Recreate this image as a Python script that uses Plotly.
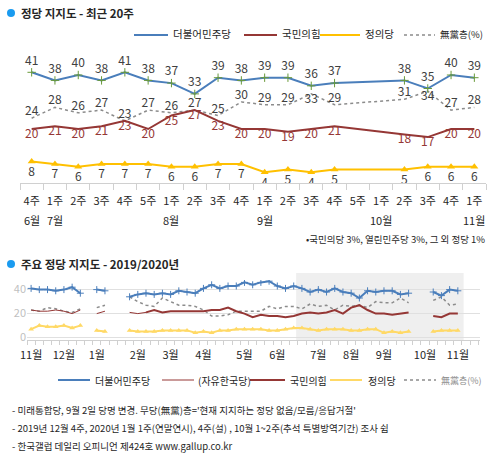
import plotly.graph_objects as go

# ---- top chart: last 20 weeks ----
weeks = ["4주", "1주", "2주", "3주", "4주", "5주", "1주", "2주", "3주", "4주",
         "1주", "2주", "3주", "4주", "5주", "1주", "2주", "3주", "4주", "1주"]
month_pos = [0, 1, 6, 10, 15, 19]
month_names = ["6월", "7월", "8월", "9월", "10월", "11월"]

minjoo = [41, 38, 40, 38, 41, 38, 37, 33, 39, 38, 39, 39, 36, 37, None, None, 38, 35, 40, 39]
kukmin = [20, 21, 20, 21, 23, 20, 25, 27, 23, 20, 20, 19, 20, 21, None, None, 18, 17, 20, 20]
justice = [8, 7, 6, 7, 7, 7, 6, 6, 7, 7, 4, 5, 4, 5, None, None, 5, 6, 6, 6]
nonparty = [24, 28, 26, 27, 23, 27, 26, 27, 25, 30, 29, 29, 33, 29, None, None, 31, 34, 27, 28]

# ---- bottom chart: 2019/2020 weekly (week index 0 = Nov 2019) ----
b_minjoo = ([41, 40, 40, 39, 40, 42, 37, None, 40, 39, None, None,
             34, 36, 37, 36, 37, 36, 39, 38, 37, 41, 44, 41, 43, 43, 46, 44, 46, 47, 43, 41, 43]
            + minjoo[:14] + [None, None] + minjoo[16:])
b_jayu = ([23, 22, 22, 23, 22, 20, 23, None, 20, 22, None, None, 21, 20, 21]
          + [None] * 38)
b_kukmin = ([None] * 14
            + [21, 23, 21, 22, 22, 22, 22, 22, 23, 23, 25, 22, 20, 17, 19, 18, 18, 17, 18]
            + kukmin[:14] + [None, None] + kukmin[16:])
b_justice = ([7, 10, 9, 9, 10, 8, 10, None, 6, 5, None, None,
              6, 5, 5, 5, 6, 6, 6, 6, 4, 5, 4, 6, 6, 7, 7, 7, 7, 6, 6, 7, 8]
             + justice[:14] + [None, None] + justice[16:])
b_nonparty = ([23, 22, 25, 24, 22, 21, 24, None, 25, 27, None, None,
               34, 30, 27, 26, 33, 30, 27, 27, 26, 23, 18, 18, 19, 22, 22, 22, 22, 26, 24, 26, 26]
              + nonparty[:14] + [None, None] + nonparty[16:])
b_weeks = list(range(len(b_minjoo)))
b_month_pos = [0, 4, 8, 13, 17, 21, 26, 30, 35, 39, 43, 48, 52]
b_month_names = ["11월", "12월", "1월", "2월", "3월", "4월", "5월", "6월", "7월", "8월", "9월", "10월", "11월"]

BLUE = "#4a7ebb"
RED = "#953735"
YEL = "#ffc000"
GREY = "#8c8c8c"
FONT = "Noto Sans CJK KR"

x = list(range(len(weeks)))
fig = go.Figure()

def lbl(vals):
    return [str(v) if v is not None else "" for v in vals]

# non-party labels sit under the point where they would hit the 민주당 labels
np_pos = ["top center"] * len(nonparty)
np_pos[12] = "bottom center"
np_pos[17] = "bottom center"

fig.add_trace(go.Scatter(x=x, y=nonparty, mode="lines+text", connectgaps=True,
                         line=dict(color=GREY, width=1.5, dash="dot"),
                         text=lbl(nonparty), textposition=np_pos,
                         textfont=dict(color="#404040", size=12), xaxis="x", yaxis="y"))
fig.add_trace(go.Scatter(x=x, y=kukmin, mode="lines+text", connectgaps=True,
                         line=dict(color=RED, width=2),
                         text=lbl(kukmin), textposition="bottom center",
                         textfont=dict(color=RED, size=12), xaxis="x", yaxis="y"))
fig.add_trace(go.Scatter(x=x, y=minjoo, mode="lines+markers+text", connectgaps=True,
                         line=dict(color=BLUE, width=2),
                         marker=dict(symbol="cross-thin", size=6, line=dict(color="#6a9a3a", width=1)),
                         text=lbl(minjoo), textposition="top center",
                         textfont=dict(color="#404040", size=12), xaxis="x", yaxis="y"))
fig.add_trace(go.Scatter(x=x, y=justice, mode="lines+markers+text", connectgaps=True,
                         line=dict(color=YEL, width=2),
                         marker=dict(symbol="triangle-up", size=7, color=YEL),
                         text=lbl(justice), textposition="bottom center",
                         textfont=dict(color="#404040", size=12), xaxis="x", yaxis="y"))

# bottom traces
fig.add_trace(go.Scatter(x=b_weeks, y=b_nonparty, mode="lines",
                         line=dict(color=GREY, width=1.5, dash="dot"), xaxis="x2", yaxis="y2"))
fig.add_trace(go.Scatter(x=b_weeks, y=b_jayu, mode="lines",
                         line=dict(color=RED, width=1), xaxis="x2", yaxis="y2"))
fig.add_trace(go.Scatter(x=b_weeks, y=b_kukmin, mode="lines",
                         line=dict(color=RED, width=2), xaxis="x2", yaxis="y2"))
fig.add_trace(go.Scatter(x=b_weeks, y=b_justice, mode="lines+markers",
                         line=dict(color="#ffd966", width=2),
                         marker=dict(symbol="triangle-up", size=5, color="#ffd966"), xaxis="x2", yaxis="y2"))
fig.add_trace(go.Scatter(x=b_weeks, y=b_minjoo, mode="lines+markers",
                         line=dict(color=BLUE, width=2),
                         marker=dict(symbol="cross-thin", size=5, line=dict(color=BLUE, width=1)),
                         xaxis="x2", yaxis="y2"))

H = 455.0
W = 493.0
ann = []
shapes = []

def tx(text, px, py, size=11, color="#262626", xanchor="left"):
    ann.append(dict(text=text, x=px / W, y=1 - py / H, xref="paper", yref="paper",
                    showarrow=False, xanchor=xanchor, yanchor="middle",
                    font=dict(size=size, color=color)))

def dot(px, py):
    shapes.append(dict(type="circle", xref="paper", yref="paper",
                       x0=(px - 4) / W, x1=(px + 4) / W, y0=1 - (py + 4) / H, y1=1 - (py - 4) / H,
                       fillcolor="#1a9bf0", line=dict(width=0)))

def legline(px0, px1, py, color, width=2, dash="solid"):
    shapes.append(dict(type="line", xref="paper", yref="paper",
                       x0=px0 / W, x1=px1 / W, y0=1 - py / H, y1=1 - py / H,
                       line=dict(color=color, width=width, dash=dash)))

# titles
dot(11, 13)
tx("<b>정당 지지도 - 최근 20주</b>", 19, 13, 11.5)
dot(11, 264)
tx("<b>주요 정당 지지도 - 2019/2020년</b>", 19, 264, 11.5)

# top legend
legline(134, 168, 35, BLUE)
tx("더불어민주당", 171, 34, 10.5)
legline(244, 277, 35, RED)
tx("국민의힘", 280, 34, 10.5)
legline(320, 360, 35, YEL)
tx("정의당", 363, 34, 10.5)
legline(404, 435, 35, GREY, 1.5, "dot")
tx("無黨층(%)", 438, 34, 9.5)

for p, m in zip(month_pos, month_names):
    ann.append(dict(text=m, x=p, y=1 - 220 / H, xref="x", yref="paper", showarrow=False,
                    yanchor="middle", font=dict(size=11, color="#262626")))
tx("•국민의당 3%, 열린민주당 3%, 그 외 정당 1%", 487, 239, 9.5, xanchor="right")

# bottom legend
legline(58, 90, 380, BLUE)
tx("더불어민주당", 93, 380, 10)
legline(162, 194, 380, RED, 1)
tx("(자유한국당)", 196, 380, 10)
legline(250, 285, 380, RED)
tx("국민의힘", 288, 380, 10)
legline(330, 362, 380, "#ffd966")
tx("정의당", 366, 380, 10)
legline(404, 436, 380, GREY, 1.5, "dot")
tx("無黨층(%)", 439, 380, 9, GREY)

# shaded range on bottom chart
shapes.append(dict(type="rect", xref="x2", yref="paper", x0=32.3, x1=52.7,
                   y0=1 - 340 / H, y1=1 - 273 / H, fillcolor="#efefef",
                   line=dict(width=0), layer="below"))

# notes
tx("- 미래통합당, 9월 2일 당명 변경. 무당(無黨)층='현재 지지하는 정당 없음/모름/응답거절'", 10, 410, 9.5)
tx("- 2019년 12월 4주, 2020년 1월 1주(연말연시), 4주(설) , 10월 1~2주(추석 특별방역기간) 조사 쉼", 10, 428, 9.5)
tx("- 한국갤럽 데일리 오피니언 제424호 www.gallup.co.kr", 10, 446, 9.5)

fig.update_layout(
    width=493, height=455, margin=dict(l=0, r=0, t=0, b=0),
    paper_bgcolor="white", plot_bgcolor="rgba(0,0,0,0)",
    font=dict(family=FONT, color="#262626"),
    showlegend=False, annotations=ann, shapes=shapes,
    xaxis=dict(domain=[20 / W, 486 / W], range=[-0.5, 19.5], automargin=False,
               tickmode="array", tickvals=x, ticktext=weeks, ticks="", ticklabelstandoff=8,
               showgrid=False, zeroline=False, showline=True, linecolor="#d0d0d0",
               tickfont=dict(size=11, color="#262626"),
               minor=dict(tickmode="array", tickvals=[i - 0.5 for i in range(21)],
                          ticks="outside", ticklen=6, tickcolor="#d0d0d0")),
    yaxis=dict(domain=[1 - 183 / H, 1 - 48 / H], range=[0, 50], visible=False, automargin=False),
    xaxis2=dict(domain=[27 / W, 480 / W], range=[-0.5, 54.7], anchor="y2", automargin=False,
                tickmode="array", tickvals=b_month_pos, ticktext=b_month_names, ticks="",
                ticklabelstandoff=5,
                showgrid=False, zeroline=False, showline=True, linecolor="#d0d0d0",
                tickfont=dict(size=11, color="#262626"),
                minor=dict(tickmode="linear", tick0=-0.5, dtick=1,
                           ticks="outside", ticklen=4, tickcolor="#d0d0d0")),
    yaxis2=dict(domain=[1 - 340 / H, 1 - 280 / H], range=[-2, 48], anchor="x2", automargin=False,
                tickvals=[0, 20, 40], showgrid=True, gridcolor="#e0e0e0", zeroline=False,
                tickfont=dict(size=11, color="#bfbfbf"), ticks=""),
)

fig.write_html("out.html", config={"displayModeBar": False},
               post_script="document.body.style.margin='0';document.body.style.overflow='hidden';")
